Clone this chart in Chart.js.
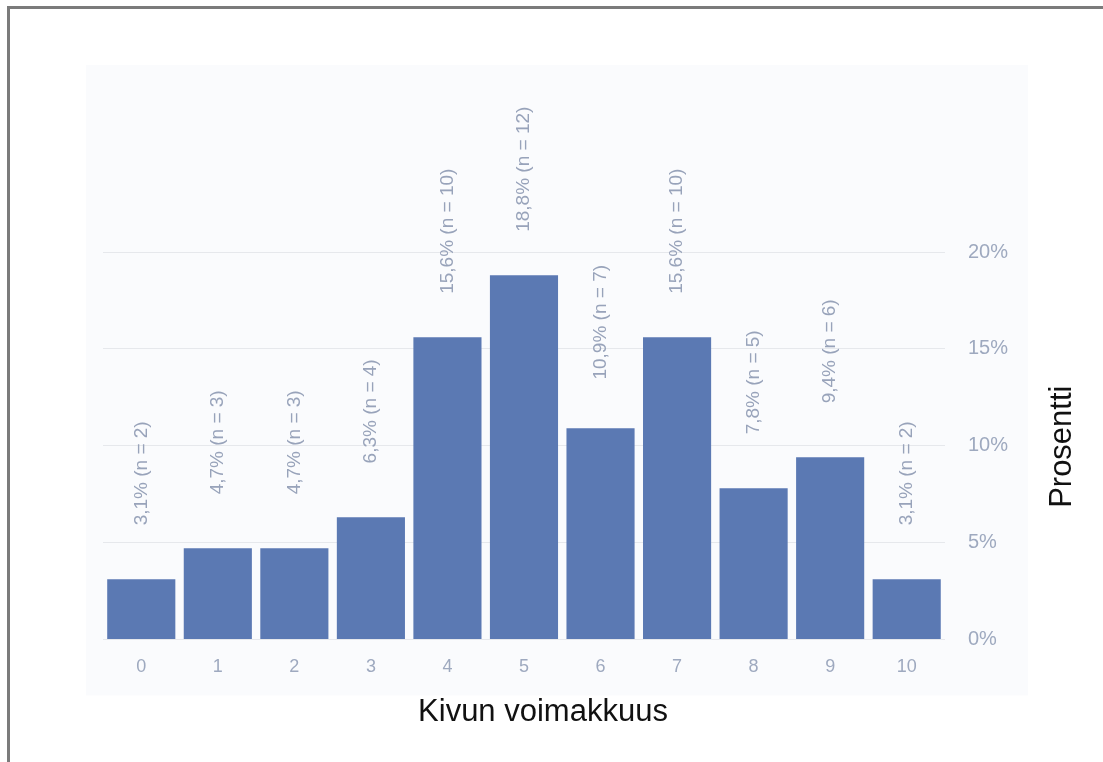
<!DOCTYPE html>
<html lang="fi">
<head>
<meta charset="utf-8">
<title>Kivun voimakkuus</title>
<script src="https://cdn.jsdelivr.net/npm/chart.js@4/dist/chart.umd.min.js"></script>
<style>
  html, body { margin: 0; padding: 0; background: #ffffff; overflow: hidden; }
  #wrap { position: relative; width: 1103px; height: 762px; overflow: hidden; }
  #frame {
    position: absolute; left: 7px; top: 6px; width: 1200px; height: 900px;
    border-top: 3px solid #7b7b7b; border-left: 3px solid #7b7b7b;
  }
  #chart { position: absolute; left: 0; top: 0; }
</style>
</head>
<body>
<div id="wrap">
  <div id="frame"></div>
  <canvas id="chart" width="1103" height="762"></canvas>
</div>
<script>
// Pain intensity scale (0–10)
const categories = ['0', '1', '2', '3', '4', '5', '6', '7', '8', '9', '10'];
// Share of respondents per level, percent
const percentages = [3.1, 4.7, 4.7, 6.3, 15.6, 18.8, 10.9, 15.6, 7.8, 9.4, 3.1];
// Number of respondents per level
const counts = [2, 3, 3, 4, 10, 12, 7, 10, 5, 6, 2];
// Axis ticks (percent)
const yTicks = [0, 5, 10, 15, 20];

const xTitle = 'Kivun voimakkuus';
const yTitle = 'Prosentti';

const FONT = "'Liberation Sans', Arial, Helvetica, sans-serif";
const TITLE_FONT = '31px ' + FONT;
const BAR_COLOR = '#5b79b3';
const TICK_COLOR = '#9ea9bf';
const LABEL_COLOR = '#98a3ba';

const fmtPct = v => v.toString().replace('.', ',') + '%';

// Light panel behind the plot
const panelPlugin = {
  id: 'panel',
  beforeDraw(chart) {
    const { ctx, chartArea: a } = chart;
    ctx.save();
    ctx.fillStyle = '#fafbfd';
    ctx.fillRect(a.left - 17, a.top - 187, (a.right - a.left) + 100, (a.bottom - a.top) + 243);
    ctx.restore();
  }
};

// Vertical value labels above each bar
const barLabelPlugin = {
  id: 'barLabels',
  afterDatasetsDraw(chart) {
    const { ctx } = chart;
    const meta = chart.getDatasetMeta(0);
    ctx.save();
    ctx.font = '19px ' + FONT;
    ctx.fillStyle = LABEL_COLOR;
    ctx.textAlign = 'center';
    ctx.textBaseline = 'middle';
    meta.data.forEach((bar, i) => {
      const text = fmtPct(percentages[i]) + ' (n = ' + counts[i] + ')';
      ctx.save();
      ctx.translate(bar.x, bar.y - 106);
      ctx.rotate(-Math.PI / 2);
      ctx.fillText(text, 0, 0);
      ctx.restore();
    });
    ctx.restore();
  }
};

// Axis titles: x title below the ticks, y title on the right reading upward
const titlesPlugin = {
  id: 'axisTitles',
  afterDraw(chart) {
    const { ctx, chartArea: a } = chart;
    const xs = chart.scales.x;
    ctx.save();
    ctx.font = TITLE_FONT;
    ctx.fillStyle = '#111111';
    ctx.textAlign = 'center';
    ctx.textBaseline = 'middle';
    ctx.fillText(xTitle, (a.left + a.right) / 2 + 19, xs.bottom - 19);
    ctx.translate(a.right + 117, (a.top + a.bottom) / 2 + 1);
    ctx.rotate(-Math.PI / 2);
    ctx.fillText(yTitle, 0, 0);
    ctx.restore();
  }
};

new Chart(document.getElementById('chart'), {
  type: 'bar',
  data: {
    labels: categories,
    datasets: [{
      data: percentages,
      backgroundColor: BAR_COLOR,
      borderWidth: 0,
      barPercentage: 0.89,
      categoryPercentage: 1.0
    }]
  },
  options: {
    responsive: false,
    devicePixelRatio: 1,
    animation: false,
    events: [],
    layout: { padding: { top: 252, left: 103, right: 72, bottom: 31 } },
    plugins: {
      legend: { display: false },
      tooltip: { enabled: false }
    },
    scales: {
      x: {
        grid: { display: false, drawTicks: false },
        border: { display: false },
        ticks: {
          color: TICK_COLOR,
          font: { family: FONT, size: 18 },
          padding: 17
        },
        title: {
          // space reserved here; the text itself is drawn by axisTitles
          display: true,
          text: xTitle,
          color: 'rgba(0,0,0,0)',
          font: { family: FONT, size: 30 },
          padding: { top: 0, bottom: 0 }
        }
      },
      y: {
        position: 'right',
        min: yTicks[0],
        max: yTicks[yTicks.length - 1],
        afterBuildTicks(scale) {
          scale.ticks = yTicks.map(v => ({ value: v }));
        },
        grid: { color: '#e6e8ec', lineWidth: 1, drawTicks: false },
        border: { display: false },
        ticks: {
          color: TICK_COLOR,
          font: { family: FONT, size: 20 },
          padding: 23,
          callback: v => v + '%'
        }
      }
    }
  },
  plugins: [panelPlugin, barLabelPlugin, titlesPlugin]
});
</script>
</body>
</html>
